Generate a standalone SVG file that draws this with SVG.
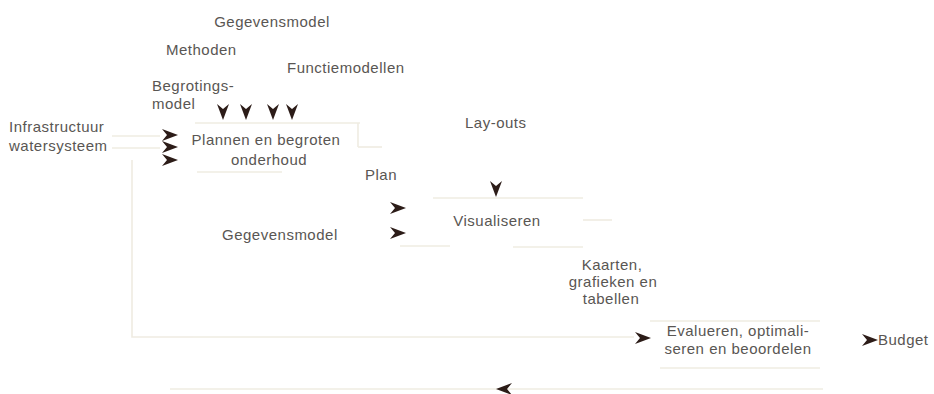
<svg xmlns="http://www.w3.org/2000/svg" xmlns:xlink="http://www.w3.org/1999/xlink" width="934" height="394" viewBox="0 0 934 394">
  <style>
    text { font-family: "Liberation Sans", Arial, sans-serif; font-size: 15px; fill: #595653; letter-spacing: 0.5px; }
    .mid { text-anchor: middle; }
    .wire { fill: none; stroke: #efece2; stroke-width: 1.6; }
    .head { fill: #2c1c18; }
  </style>
  <defs>
    <!-- barbed arrowhead, tip at origin, pointing right -->
    <path id="ah" d="M-16,-6 L0,0 L-16,6 L-11,0 Z"/>
  </defs>
  <rect width="934" height="394" fill="#ffffff"/>

  <!-- connectors -->
  <g id="connectors">
    <!-- inputs into Plannen -->
    <line class="wire" x1="112" y1="136" x2="160" y2="136"/>
    <line class="wire" x1="112" y1="148" x2="160" y2="148"/>
    <use xlink:href="#ah" class="head" transform="translate(178,135)"/>
    <use xlink:href="#ah" class="head" transform="translate(178,147)"/>
    <use xlink:href="#ah" class="head" transform="translate(178,160)"/>
    <use xlink:href="#ah" class="head" transform="translate(223,120) rotate(90)"/>
    <use xlink:href="#ah" class="head" transform="translate(246,120) rotate(90)"/>
    <use xlink:href="#ah" class="head" transform="translate(273,120) rotate(90)"/>
    <use xlink:href="#ah" class="head" transform="translate(292,120) rotate(90)"/>
    <!-- Plan output -->
    <line class="wire" x1="358" y1="147" x2="382" y2="147"/>
    <!-- inputs into Visualiseren -->
    <use xlink:href="#ah" class="head" transform="translate(406,208)"/>
    <use xlink:href="#ah" class="head" transform="translate(406,233)"/>
    <use xlink:href="#ah" class="head" transform="translate(496,197) rotate(90)"/>
    <line class="wire" x1="583" y1="220" x2="612" y2="220"/>
    <!-- feedback loop on the left -->
    <polyline class="wire" points="132,160 132,337 193,337"/>
    <line class="wire" x1="193" y1="337" x2="634" y2="337"/>
    <use xlink:href="#ah" class="head" transform="translate(651,338)"/>
    <!-- Budget output -->
    <use xlink:href="#ah" class="head" transform="translate(878,340)"/>
    <!-- return line along the bottom -->
    <line class="wire" x1="170" y1="389" x2="823" y2="389"/>
    <use xlink:href="#ah" class="head" transform="translate(496,389) rotate(180)"/>
  </g>

  <!-- input labels -->
  <g id="label-gegevensmodel-top"><text x="272" y="27" class="mid">Gegevensmodel</text></g>
  <g id="label-methoden"><text x="166" y="55">Methoden</text></g>
  <g id="label-functiemodellen"><text x="287" y="73">Functiemodellen</text></g>
  <g id="label-begrotingsmodel">
    <text x="152" y="91">Begrotings-</text>
    <text x="152" y="109">model</text>
  </g>
  <g id="label-infrastructuur">
    <text x="9" y="132">Infrastructuur</text>
    <text x="9" y="151">watersysteem</text>
  </g>

  <!-- node: Plannen en begroten onderhoud -->
  <g id="node-plannen">
    <line class="wire" x1="195" y1="123" x2="360" y2="123"/>
    <line class="wire" x1="358" y1="123" x2="358" y2="147"/>
    <line class="wire" x1="197" y1="172" x2="282" y2="172"/>
    <text x="266" y="145" class="mid">Plannen en begroten</text>
    <text x="269" y="165" class="mid">onderhoud</text>
  </g>

  <g id="label-plan"><text x="365" y="180">Plan</text></g>
  <g id="label-layouts"><text x="465" y="128">Lay-outs</text></g>
  <g id="label-gegevensmodel-mid"><text x="222" y="240">Gegevensmodel</text></g>

  <!-- node: Visualiseren -->
  <g id="node-visualiseren">
    <line class="wire" x1="433" y1="198" x2="583" y2="198"/>
    <line class="wire" x1="400" y1="246" x2="450" y2="246"/>
    <line class="wire" x1="513" y1="247" x2="583" y2="247"/>
    <text x="497" y="226" class="mid">Visualiseren</text>
  </g>

  <g id="label-kaarten">
    <text x="612" y="270" class="mid">Kaarten,</text>
    <text x="613" y="287" class="mid">grafieken en</text>
    <text x="611" y="304" class="mid">tabellen</text>
  </g>

  <!-- node: Evalueren, optimaliseren en beoordelen -->
  <g id="node-evalueren">
    <line class="wire" x1="650" y1="321" x2="820" y2="321"/>
    <line class="wire" x1="660" y1="368" x2="820" y2="368"/>
    <text x="738" y="336" class="mid">Evalueren, optimali-</text>
    <text x="738" y="354" class="mid">seren en beoordelen</text>
  </g>

  <g id="label-budget"><text x="878" y="345">Budget</text></g>
</svg>
